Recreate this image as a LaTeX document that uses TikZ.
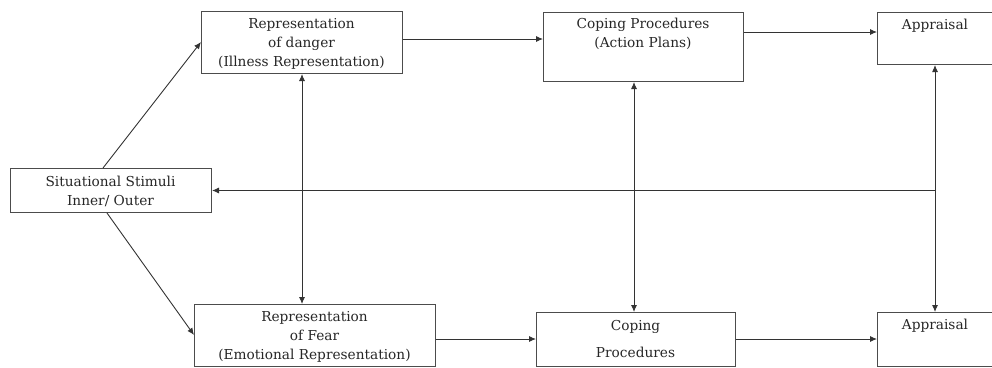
\documentclass[tikz,border=0pt]{standalone}
\usepackage{fontspec}
\setmainfont{DejaVu Serif}
\usetikzlibrary{arrows.meta,calc}
\begin{document}
\begin{tikzpicture}[x=1pt,y=-1pt,
  box/.style={draw=black!70,line width=1pt,rectangle,inner sep=0pt,anchor=north west},
  txt/.style={align=center,inner sep=0pt,text=black!85,font=\fontsize{13.7}{19}\selectfont},
  conn/.style={draw=black!80,line width=0.9pt,-{Latex[length=7pt,width=6pt]}},
  bconn/.style={draw=black!80,line width=0.9pt,{Latex[length=7pt,width=6pt]}-{Latex[length=7pt,width=6pt]}}]
\useasboundingbox (0,0) rectangle (992,367);
\clip (0,0) rectangle (992,367);
% boxes
\node[box,minimum width=201pt,minimum height=62pt] (A) at (201,11) {};
\node[box,minimum width=200pt,minimum height=69pt] (B) at (543,12) {};
\node[box,minimum width=118pt,minimum height=52pt] (C) at (877,12) {};
\node[box,minimum width=201pt,minimum height=44pt] (D) at (10,168) {};
\node[box,minimum width=241pt,minimum height=62pt] (E) at (194,304) {};
\node[box,minimum width=199pt,minimum height=54pt] (F) at (536,312) {};
\node[box,minimum width=118pt,minimum height=54pt] (G) at (877,312) {};
% texts
\node[txt] (tA) at (301.5,44) {Representation\\of danger\\(Illness Representation)};
\node[txt] (tB) at (643,34) {Coping Procedures\\(Action Plans)};
\node[txt] (tC) at (935,26) {Appraisal};
\node[txt] (tD) at (110.5,191) {Situational Stimuli\\Inner/ Outer};
\node[txt] (tE) at (314.5,337) {Representation\\of Fear\\(Emotional Representation)};
\node[txt] (tF1) at (635.5,327) {Coping};
\node[txt] (tF2) at (635.5,352) {Procedures};
\node[txt] (tG) at (935,326) {Appraisal};
% connectors
\draw[conn] ([xshift=93pt]D.north west) -- ([yshift=-31pt]A.north west);
\draw[conn] ([xshift=97pt]D.south west) -- ([yshift=-31pt]E.north west);
\draw[bconn] (A.south) -- (A.south |- E.north);
\draw[conn] ([yshift=-28pt]A.north east) -- ([yshift=-28pt]A.north east -| B.west);
\draw[conn] ([yshift=-20pt]B.north east) -- ([yshift=-20pt]B.north east -| C.west);
\draw[bconn] ([xshift=91pt]B.south west) -- ([xshift=91pt]B.south west |- F.north);
\draw[bconn] ([xshift=58pt]C.south west) -- ([xshift=58pt]C.south west |- G.north);
\coordinate (J) at ([xshift=58pt]C.south west |- D.east);
\draw[conn] (J) -- (D.east);
\draw[conn] ([yshift=-35pt]E.north east) -- ([yshift=-35pt]E.north east -| F.west);
\draw[conn] ([yshift=-27pt]F.north east) -- ([yshift=-27pt]F.north east -| G.west);
\end{tikzpicture}
\end{document}
